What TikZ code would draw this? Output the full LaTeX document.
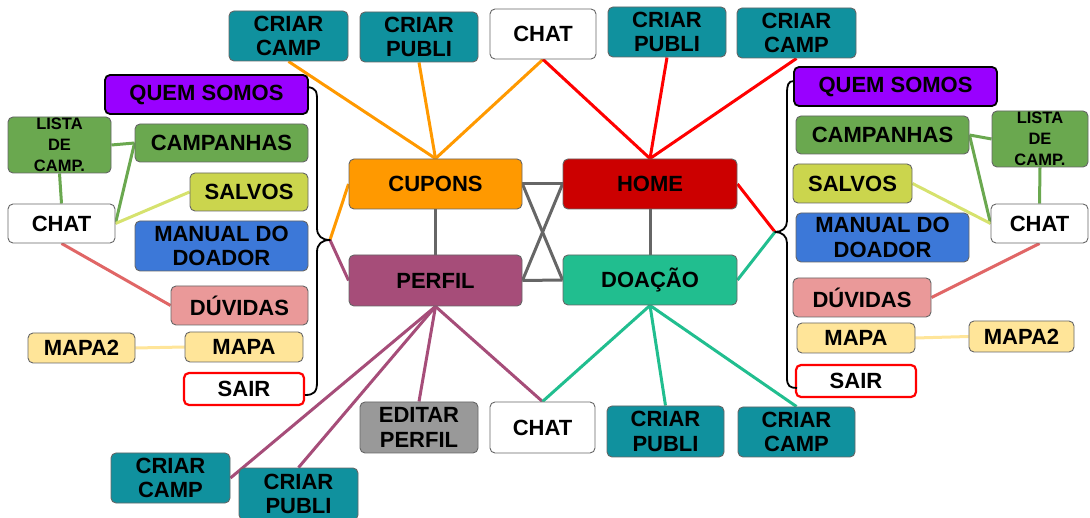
\documentclass[tikz,border=0pt]{standalone}
\usepackage{fontspec}
\setmainfont{Liberation Sans}
\definecolor{edge}{HTML}{666666}
\definecolor{teal}{RGB}{16,145,158}
\definecolor{cuporange}{HTML}{FF9900}
\definecolor{homered}{HTML}{CC0000}
\definecolor{perfpurple}{HTML}{A64D79}
\definecolor{doagreen}{RGB}{33,190,143}
\definecolor{quem}{HTML}{9900FF}
\definecolor{campgreen}{HTML}{6AA84F}
\definecolor{salvos}{RGB}{203,213,77}
\definecolor{manual}{HTML}{3C78D8}
\definecolor{duvidas}{HTML}{EA9999}
\definecolor{mapa}{HTML}{FFE599}
\definecolor{editar}{HTML}{999999}
\definecolor{salvosline}{RGB}{214,226,110}
\definecolor{duvline}{HTML}{E06666}
\definecolor{linkred}{HTML}{FF0000}
\definecolor{linkgray}{HTML}{666666}
\pgfdeclarelayer{back}
\pgfsetlayers{back,main}
\begin{document}
\begin{tikzpicture}[x=1pt,y=-1pt,
  box/.style={draw=edge, line width=0.9pt, rounded corners=5pt, align=center,
    inner sep=0pt, text=black, font=\bfseries\fontsize{22}{24.5}\selectfont},
  sz/.style 2 args={minimum width=#1pt, minimum height=#2pt},
  small/.style={font=\bfseries\fontsize{16.5}{21}\selectfont},
  link/.style={line width=3pt},
  brace/.style={line width=1.8pt, draw=black, line join=round}]
\useasboundingbox (0,0) rectangle (1090,518);

% top row
\node[box, fill=teal, sz={119}{50}] (tcampL) at (288.5,36) {CRIAR\\CAMP};
\node[box, fill=teal, sz={118}{50}] (tpubL) at (419,37) {CRIAR\\PUBLI};
\node[box, fill=white, sz={106}{50}] (tchat) at (543,34) {CHAT};
\node[box, fill=teal, sz={118}{50}] (tpubR) at (667,32) {CRIAR\\PUBLI};
\node[box, fill=teal, sz={119}{50}] (tcampR) at (796.5,33) {CRIAR\\CAMP};

% central four
\node[box, fill=cuporange, sz={173}{50}] (cupons) at (435.5,184) {CUPONS};
\node[box, fill=homered, sz={174}{50}] (home) at (650,184) {HOME};
\node[box, fill=perfpurple, sz={173}{51}] (perfil) at (435.5,280.5) {PERFIL};
\node[box, fill=doagreen, sz={174}{50}] (doacao) at (650,280) {DOAÇÃO};

% left menu
\node[box, fill=quem, draw=black, line width=1.8pt, sz={203}{39}] (lquem) at (206.5,94.5) {QUEM SOMOS};
\node[box, fill=campgreen, sz={173}{38}] (lcamp) at (221.5,143) {CAMPANHAS};
\node[box, fill=campgreen, sz={103}{56}, small] (llista) at (59.5,145) {LISTA\\DE\\CAMP.};
\node[box, fill=salvos, sz={118}{38}] (lsalvos) at (249,192) {SALVOS};
\node[box, fill=white, sz={107}{39}] (lchat) at (61.5,223.5) {CHAT};
\node[box, fill=manual, sz={173}{50}] (lmanual) at (221.5,246) {MANUAL DO\\DOADOR};
\node[box, fill=duvidas, sz={137}{39}] (lduv) at (239.5,305.5) {DÚVIDAS};
\node[box, fill=mapa, sz={118}{30}] (lmapa) at (244,347) {MAPA};
\node[box, fill=mapa, sz={107}{30}] (lmapa2) at (81.5,348) {MAPA2};
\node[box, fill=white, draw=linkred, line width=2.2pt, sz={120}{32}] (lsair) at (244,389) {SAIR};

% right menu
\node[box, fill=quem, draw=black, line width=1.8pt, sz={203}{39}] (rquem) at (895.5,86.5) {QUEM SOMOS};
\node[box, fill=campgreen, sz={173}{38}] (rcamp) at (882.5,135) {CAMPANHAS};
\node[box, fill=campgreen, sz={96}{56}, small] (rlista) at (1040,139) {LISTA\\DE\\CAMP.};
\node[box, fill=salvos, sz={119}{39}] (rsalvos) at (852.5,183.5) {SALVOS};
\node[box, fill=white, sz={97}{39}] (rchat) at (1039.5,223.5) {CHAT};
\node[box, fill=manual, sz={173}{49}] (rmanual) at (882.5,237.5) {MANUAL DO\\DOADOR};
\node[box, fill=duvidas, sz={138}{39}] (rduv) at (862,297.5) {DÚVIDAS};
\node[box, fill=mapa, sz={118}{30}] (rmapa) at (856,338) {MAPA};
\node[box, fill=mapa, sz={105}{31}] (rmapa2) at (1021.5,336.5) {MAPA2};
\node[box, fill=white, draw=linkred, line width=2.2pt, sz={120}{32}] (rsair) at (856,381) {SAIR};

% bottom row
\node[box, fill=editar, sz={118}{51}] (editar) at (419,427.5) {EDITAR\\PERFIL};
\node[box, fill=white, sz={105}{51}] (bchat) at (542.5,427.5) {CHAT};
\node[box, fill=teal, sz={117}{51}] (bpubR) at (665.5,431.5) {CRIAR\\PUBLI};
\node[box, fill=teal, sz={117}{50}] (bcampR) at (796.5,432) {CRIAR\\CAMP};
\node[box, fill=teal, sz={119}{50}] (bcampL) at (170.5,478) {CRIAR\\CAMP};
\node[box, fill=teal, sz={119}{52}] (bpubL) at (298.5,494) {CRIAR\\PUBLI};

% brace tips
\coordinate (lb) at (330,240);
\coordinate (rb) at (775,232);

% connectors sit on a layer beneath the boxes
\begin{pgfonlayer}{back}
  % top row into CUPONS and HOME
  \draw[link, cuporange] (tcampL.south) -- (cupons.north);
  \draw[link, cuporange] (tpubL.south) -- (cupons.north);
  \draw[link, cuporange] (tchat.south) -- (cupons.north);
  \draw[link, linkred] (tchat.south) -- (home.north);
  \draw[link, linkred] (tpubR.south) -- (home.north);
  \draw[link, linkred] (tcampR.south) -- (home.north);

  % grey frame between the four sections
  \draw[link, linkgray] (cupons.east) -- (home.west);
  \draw[link, linkgray] (perfil.east) -- (doacao.west);
  \draw[link, linkgray] (cupons.south) -- (perfil.north);
  \draw[link, linkgray] (home.south) -- (doacao.north);
  \draw[link, linkgray] (cupons.east) -- (doacao.west);
  \draw[link, linkgray] (perfil.east) -- (home.west);

  % into the braces
  \draw[link, cuporange] (cupons.west) -- (lb);
  \draw[link, perfpurple] (lb) -- (perfil.west);
  \draw[link, linkred] (home.east) -- (rb);
  \draw[link, doagreen] (rb) -- (doacao.east);

  % left side links
  \draw[link, campgreen] (llista.east) -- (lcamp.west);
  \draw[link, campgreen] (lcamp.west) -- (lchat.east);
  \draw[link, campgreen] (llista.south) -- (lchat.north);
  \draw[link, salvosline] (lsalvos.west) -- (lchat.east);
  \draw[link, duvline] (lchat.south) -- (lduv.west);
  \draw[link, mapa] (lmapa2.east) -- (lmapa.west);

  % right side links
  \draw[link, campgreen] (rcamp.east) -- (rlista.west);
  \draw[link, campgreen] (rcamp.east) -- (rchat.west);
  \draw[link, campgreen] (rlista.south) -- (rchat.north);
  \draw[link, salvosline] (rsalvos.east) -- (rchat.west);
  \draw[link, duvline] (rchat.south) -- (rduv.east);
  \draw[link, mapa] (rmapa.east) -- (rmapa2.west);

  % bottom links
  \draw[link, perfpurple] (perfil.south) -- (bcampL.east);
  \draw[link, perfpurple] (perfil.south) -- (bpubL.north);
  \draw[link, perfpurple] (perfil.south) -- (editar.north);
  \draw[link, perfpurple] (perfil.south) -- (bchat.north);
  \draw[link, doagreen] (doacao.south) -- (bchat.north);
  \draw[link, doagreen] (doacao.south) -- (bpubR.north);
  \draw[link, doagreen] (doacao.south) -- (bcampR.north);
\end{pgfonlayer}

% curly braces grouping the menus
\draw[brace] (307,87) .. controls (317,88) and (317,92) .. (317,102)
  -- (317,228) .. controls (317,236) and (322,240) .. (lb)
  .. controls (322,240) and (317,244) .. (317,252)
  -- (317,382) .. controls (317,392) and (314,395) .. (305,395);
\draw[brace] (794,81) .. controls (788,81) and (787,85) .. (787,94)
  -- (787,221) .. controls (787,228) and (782,232) .. (rb)
  .. controls (782,232) and (787,236) .. (787,243)
  -- (787,378) .. controls (787,386) and (790,388) .. (797,388);
\end{tikzpicture}
\end{document}
